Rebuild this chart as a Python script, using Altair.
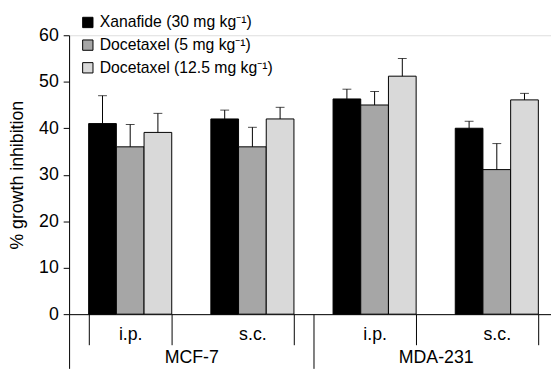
import altair as alt
import pandas as pd

FONT = "Liberation Sans"

cell_lines = ["MCF-7", "MCF-7", "MDA-231", "MDA-231"]
routes = ["i.p.", "s.c.", "i.p.", "s.c."]
treatments = ["Xanafide (30 mg kg\u207b\u00b9)", "Docetaxel (5 mg kg\u207b\u00b9)", "Docetaxel (12.5 mg kg\u207b\u00b9)"]
colors = ["#000000", "#a6a6a6", "#d9d9d9"]

xanafide = [41.0, 42.0, 46.3, 40.0]
xanafide_err = [6.0, 1.9, 2.1, 1.5]
docetaxel5 = [36.0, 36.0, 45.0, 31.1]
docetaxel5_err = [4.8, 4.2, 2.9, 5.6]
docetaxel12 = [39.1, 42.0, 51.2, 46.1]
docetaxel12_err = [4.1, 2.5, 3.8, 1.4]

series = [(xanafide, xanafide_err), (docetaxel5, docetaxel5_err), (docetaxel12, docetaxel12_err)]
rows = []
for i in range(len(routes)):
    for t, (vals, errs) in zip(treatments, series):
        rows.append({
            "key": f"{cell_lines[i]}|{routes[i]}",
            "cell": cell_lines[i],
            "treatment": t,
            "value": vals[i],
            "upper": vals[i] + errs[i],
        })
df = pd.DataFrame(rows)
keys = [f"{c}|{r}" for c, r in zip(cell_lines, routes)]
cells_df = pd.DataFrame({"cell": ["MCF-7", "MDA-231"]})

x_scale = alt.Scale(range=[0, 496], paddingInner=0.32, paddingOuter=0.16)
xo = alt.XOffset("treatment:N", sort=treatments, scale=alt.Scale(paddingInner=0, paddingOuter=0))
y_scale = alt.Scale(domain=[0, 60], nice=False)

x_axis = alt.Axis(
    title=None, labelExpr="split(datum.label, '|')[1]", tickBand="extent",
    tickSize=31, labelPadding=-19, labelAngle=0, domainColor="black",
    tickColor="black", labelFontSize=18, labelColor="black", labelFont=FONT,
)
y_axis = alt.Axis(
    values=[0, 10, 20, 30, 40, 50, 60], title="% growth inhibition",
    titleFontSize=18, titleFontWeight="normal", titleColor="black", titleFont=FONT,
    titlePadding=12, labelFontSize=18, labelColor="black", labelFont=FONT,
    tickSize=6, labelPadding=5, domainColor="black", tickColor="black", grid=False,
)

x_enc = alt.X("key:N", sort=keys, scale=x_scale, axis=x_axis)

bars = alt.Chart(df).mark_bar(stroke="black", strokeWidth=1).encode(
    x=x_enc,
    xOffset=xo,
    y=alt.Y("value:Q", scale=y_scale, axis=y_axis),
    fill=alt.Fill("treatment:N", sort=treatments,
                  scale=alt.Scale(domain=treatments, range=colors),
                  legend=alt.Legend(
                      orient="none", legendX=11, legendY=-21, title=None,
                      symbolType="square", symbolSize=110, symbolStrokeColor="black",
                      symbolStrokeWidth=1, labelFontSize=16, labelFont=FONT,
                      labelColor="black", rowPadding=7, labelOffset=4, labelLimit=400,
                  )),
)

err = alt.Chart(df).mark_rule(color="black", strokeWidth=1).encode(
    x=x_enc,
    xOffset=xo,
    y=alt.Y("value:Q", scale=y_scale, axis=y_axis),
    y2="upper:Q",
)

caps = alt.Chart(df).mark_tick(color="black", size=9, thickness=1).encode(
    x=x_enc,
    xOffset=xo,
    y=alt.Y("upper:Q", scale=y_scale, axis=y_axis),
)

main = alt.layer(bars, err, caps)

cells = alt.Chart(cells_df).mark_point(opacity=0).encode(
    x=alt.X("cell:N", scale=alt.Scale(range=[0, 496], paddingInner=0, paddingOuter=0),
            axis=alt.Axis(orient="bottom", title=None, tickBand="extent", tickSize=55,
                          domain=False, labelPadding=-20, labelAngle=0, tickColor="black",
                          labelFontSize=18, labelColor="black", labelFont=FONT)),
)

chart = alt.layer(main, cells).resolve_scale(x="independent").properties(
    width=489, height=283,
    autosize=alt.AutoSizeParams(type="none"),
    padding={"left": 62, "top": 25, "right": 0, "bottom": 55},
).configure_view(stroke=None).configure(font=FONT)

chart.save("out.html", embed_options={"renderer": "svg", "actions": False})
